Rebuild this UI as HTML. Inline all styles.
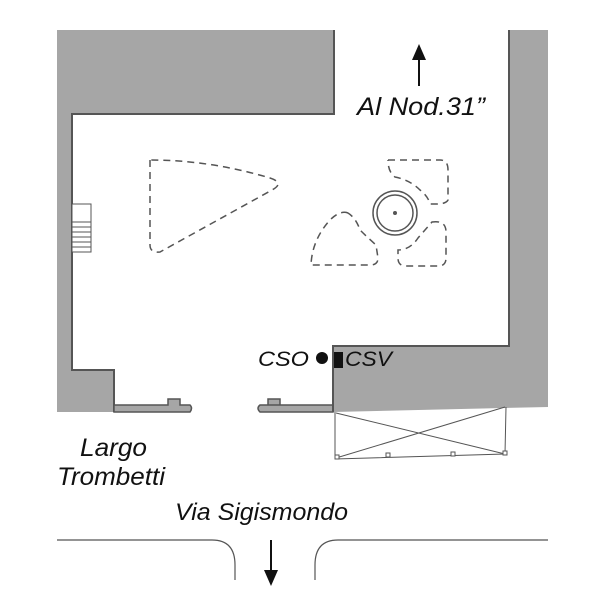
<!DOCTYPE html>
<html><head><style>body{margin:0;background:#fff}svg{display:block}text{font-family:"Liberation Sans",sans-serif;font-style:italic;fill:#111}</style></head>
<body>
<svg width="600" height="600" viewBox="0 0 600 600" xmlns="http://www.w3.org/2000/svg">
<path d="M57,30 H334 V114 H72 V370 H114 V412 H57 Z" fill="#a6a6a6"/>
<path d="M334,30 V114 H72 V370 H114 V412" fill="none" stroke="#555" stroke-width="2"/>
<path d="M114,405 H168 V399 H180 V405 H190 Q193,408 190,412 H114 Z" fill="#a6a6a6" stroke="#555" stroke-width="1.5"/>
<path d="M333,405 H268 V399 H280 V405 H260 Q256,408 260,412 H333 Z" fill="#a6a6a6" stroke="#555" stroke-width="1.5"/>
<path d="M508,30 H548 V407 L333,412 V346 H508 Z" fill="#a6a6a6"/>
<path d="M509,30 V346 H333 V412" fill="none" stroke="#555" stroke-width="2"/>
<g fill="none" stroke="#555" stroke-width="1">
<path d="M335,412 V459 L505,454 L506,407"/>
<path d="M336,413 L505,454 M505,407 L336,458"/>
<rect x="335" y="455" width="4" height="4" fill="#fff"/>
<rect x="386" y="453" width="4" height="4" fill="#fff"/>
<rect x="451" y="452" width="4" height="4" fill="#fff"/>
<rect x="503" y="451" width="4" height="4" fill="#fff"/>
</g>
<g stroke="#555" stroke-width="1" fill="#fff">
<rect x="72" y="204" width="19" height="48"/>
<path d="M72,222 H91 M72,227 H91 M72,232 H91 M72,237 H91 M72,242 H91 M72,247 H91"/>
</g>
<g fill="none" stroke="#555" stroke-width="1.5" stroke-dasharray="7,5">
<path d="M150,160 V245 Q150,253 160,252 L272,190 Q285,183 270,178 Q210,160 150,160 Z"/>
<path d="M388,160 H440 Q448,160 448,170 V200 Q446,204 436,204 H430 Q428,196 420,190 Q410,180 395,177 Q388,172 388,160"/>
<path d="M348,213 Q340,210 330,220 Q312,240 311,265 H370 Q378,265 378,258 L376,245 Q366,236 360,230 Q356,218 348,213"/>
<path d="M432,222 Q446,220 446,232 V258 Q446,266 438,266 H406 Q398,266 398,258 V250 Q410,250 418,238 Z"/>
</g>
<circle cx="395" cy="213" r="22" fill="none" stroke="#555" stroke-width="1.5"/>
<circle cx="395" cy="213" r="18" fill="none" stroke="#555" stroke-width="1.5"/>
<circle cx="395" cy="213" r="2" fill="#555"/>
<line x1="419" y1="86" x2="419" y2="56" stroke="#111" stroke-width="2"/>
<path d="M419,44 L412,60 H426 Z" fill="#111"/>
<text x="357" y="115" font-size="25" textLength="128" lengthAdjust="spacingAndGlyphs">Al Nod.31”</text>
<text x="258" y="366" font-size="21" textLength="51" lengthAdjust="spacingAndGlyphs">CSO</text>
<circle cx="322" cy="358" r="6" fill="#111"/>
<rect x="334" y="352" width="9" height="16" fill="#111"/>
<text x="345" y="366" font-size="21" textLength="47" lengthAdjust="spacingAndGlyphs">CSV</text>
<text x="80" y="456" font-size="25" textLength="67" lengthAdjust="spacingAndGlyphs">Largo</text>
<text x="57" y="485" font-size="25" textLength="108" lengthAdjust="spacingAndGlyphs">Trombetti</text>
<text x="175" y="520" font-size="24" textLength="173" lengthAdjust="spacingAndGlyphs">Via Sigismondo</text>
<path d="M57,540 H212 Q235,540 235,565 V580" fill="none" stroke="#555" stroke-width="1.2"/>
<path d="M315,580 V565 Q315,540 338,540 H548" fill="none" stroke="#555" stroke-width="1.2"/>
<line x1="271" y1="540" x2="271" y2="572" stroke="#111" stroke-width="2"/>
<path d="M271,586 L264,570 H278 Z" fill="#111"/>
</svg>
</body></html>
